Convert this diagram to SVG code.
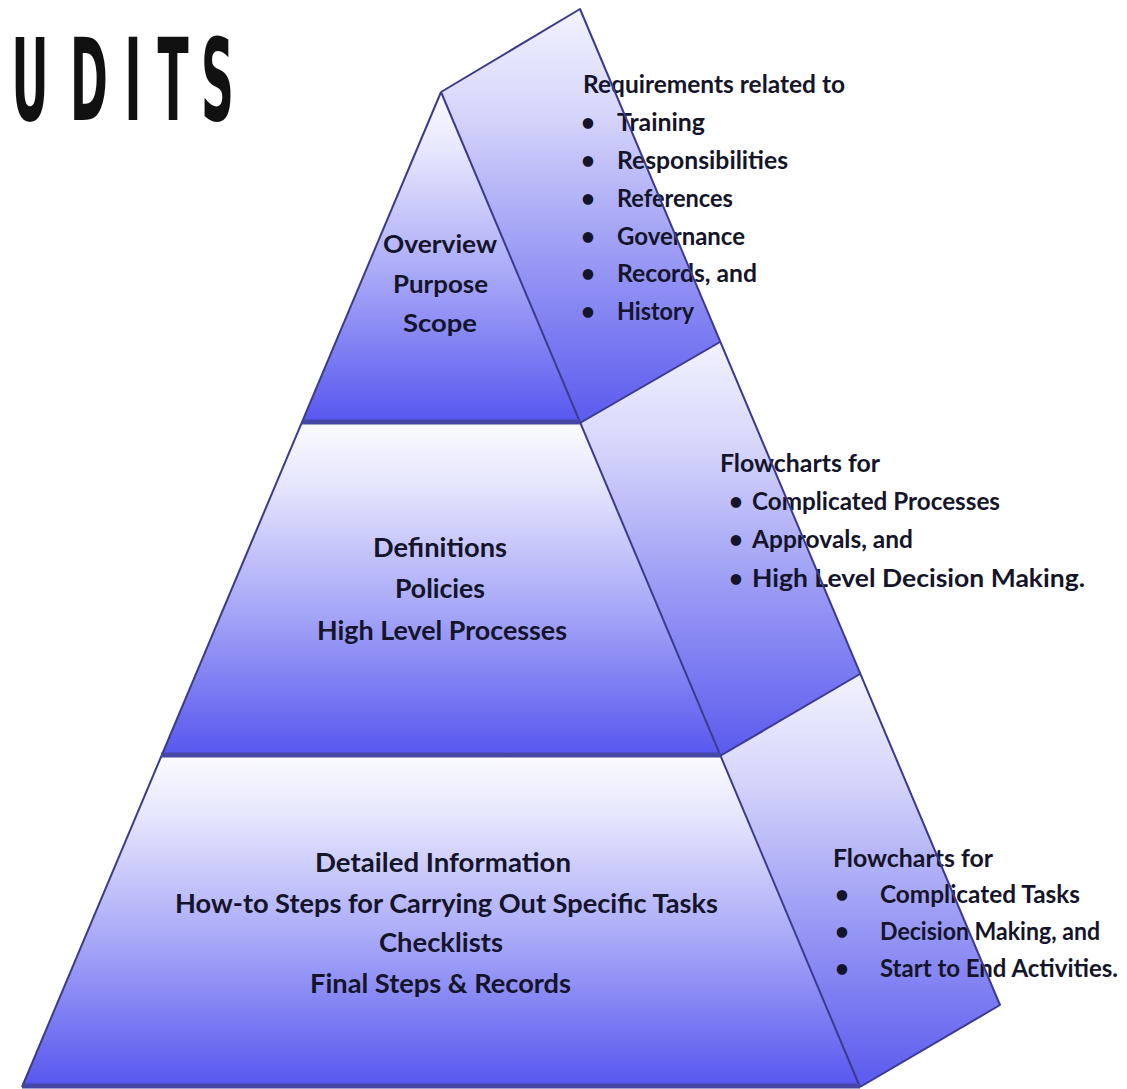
<svg xmlns="http://www.w3.org/2000/svg" width="1127" height="1089" viewBox="0 0 1127 1089">
  <defs>
    <!-- vertical shading used by every face: pale at the top, saturated blue at the bottom -->
    <linearGradient id="faceFill" x1="0" y1="0" x2="0" y2="1">
      <stop offset="0" stop-color="#fbfbff"/>
      <stop offset="0.18" stop-color="#e6e6fd"/>
      <stop offset="0.55" stop-color="#a9a9f8"/>
      <stop offset="1" stop-color="#5656ef"/>
    </linearGradient>
    <linearGradient id="sideFill" x1="0" y1="0" x2="0" y2="1">
      <stop offset="0" stop-color="#f2f2fe"/>
      <stop offset="0.25" stop-color="#d6d6fb"/>
      <stop offset="0.6" stop-color="#9a9af5"/>
      <stop offset="1" stop-color="#5a5aee"/>
    </linearGradient>
    <style>
      .face { fill: url(#faceFill); }
      .side { fill: url(#sideFill); }
      .edge { fill: none; stroke: #3a3a8e; stroke-width: 2; stroke-linejoin: round; }
      .base { stroke: #4646a4; stroke-width: 5; }
      .lbl { font-family: Lato, "Open Sans", "Liberation Sans", sans-serif; font-weight: bold; fill: #14142a; }
      .mid { font-size: 27px; }
      .top { font-size: 24px; }
      .note { font-size: 24px; }
      .title { font-family: "DejaVu Sans", "Liberation Sans", sans-serif; font-weight: bold; font-size: 114px; fill: #111111; }
    </style>
  </defs>

  <rect width="1127" height="1089" fill="#ffffff"/>

  <!-- heading -->
  <text class="title" transform="scale(0.4,1)" y="120" text-anchor="middle" x="75 222.5 332.5 432.5 543.8">UDITS</text>

  <!-- tier 1: apex -->
  <g id="tier-top">
    <polygon class="face" points="441,92 580,423 302,423"/>
    <polygon class="side" points="441,92 580,9 720,342 580,423"/>
    <text class="lbl top" x="383" y="253" textLength="114" lengthAdjust="spacingAndGlyphs">Overview</text>
    <text class="lbl top" x="393" y="293" textLength="95" lengthAdjust="spacingAndGlyphs">Purpose</text>
    <text class="lbl top" x="403" y="332" textLength="74" lengthAdjust="spacingAndGlyphs">Scope</text>
    <g class="lbl note">
      <text x="583" y="93" textLength="262" lengthAdjust="spacingAndGlyphs">Requirements related to</text>
      <text x="588" y="131" text-anchor="middle">•</text>
      <text x="617" y="131" textLength="88" lengthAdjust="spacingAndGlyphs">Training</text>
      <text x="588" y="169" text-anchor="middle">•</text>
      <text x="617" y="169" textLength="171" lengthAdjust="spacingAndGlyphs">Responsibilities</text>
      <text x="588" y="207" text-anchor="middle">•</text>
      <text x="617" y="207" textLength="116" lengthAdjust="spacingAndGlyphs">References</text>
      <text x="588" y="245" text-anchor="middle">•</text>
      <text x="617" y="245" textLength="128" lengthAdjust="spacingAndGlyphs">Governance</text>
      <text x="588" y="282" text-anchor="middle">•</text>
      <text x="617" y="282" textLength="140" lengthAdjust="spacingAndGlyphs">Records, and</text>
      <text x="588" y="320" text-anchor="middle">•</text>
      <text x="617" y="320" textLength="77" lengthAdjust="spacingAndGlyphs">History</text>
    </g>
  </g>

  <!-- tier 2: middle band -->
  <g id="tier-middle">
    <polygon class="face" points="302,423 580,423 720,756 161,756"/>
    <polygon class="side" points="580,423 720,342 860,674 720,756"/>
    <text class="lbl mid" x="373" y="557" textLength="134" lengthAdjust="spacingAndGlyphs">Definitions</text>
    <text class="lbl mid" x="395" y="598" textLength="90" lengthAdjust="spacingAndGlyphs">Policies</text>
    <text class="lbl mid" x="317" y="640" textLength="250" lengthAdjust="spacingAndGlyphs">High Level Processes</text>
    <g class="lbl note">
      <text x="720" y="472" textLength="160" lengthAdjust="spacingAndGlyphs">Flowcharts for</text>
      <text x="736" y="510" text-anchor="middle">•</text>
      <text x="752" y="510" textLength="248" lengthAdjust="spacingAndGlyphs">Complicated Processes</text>
      <text x="736" y="548" text-anchor="middle">•</text>
      <text x="752" y="548" textLength="161" lengthAdjust="spacingAndGlyphs">Approvals, and</text>
      <text x="736" y="587" text-anchor="middle">•</text>
      <text x="752" y="587" textLength="333" lengthAdjust="spacingAndGlyphs">High Level Decision Making.</text>
    </g>
  </g>

  <!-- tier 3: base band -->
  <g id="tier-bottom">
    <polygon class="face" points="161,756 720,756 860,1087 22,1087"/>
    <polygon class="side" points="720,756 860,674 1000,1005 860,1087"/>
    <text class="lbl mid" x="315" y="872" textLength="256" lengthAdjust="spacingAndGlyphs">Detailed Information</text>
    <text class="lbl mid" x="175" y="913" textLength="543" lengthAdjust="spacingAndGlyphs">How-to Steps for Carrying Out Specific Tasks</text>
    <text class="lbl mid" x="379" y="952" textLength="124" lengthAdjust="spacingAndGlyphs">Checklists</text>
    <text class="lbl mid" x="310" y="993" textLength="261" lengthAdjust="spacingAndGlyphs">Final Steps &amp; Records</text>
    <g class="lbl note">
      <text x="833" y="867" textLength="160" lengthAdjust="spacingAndGlyphs">Flowcharts for</text>
      <text x="842" y="903" text-anchor="middle">•</text>
      <text x="880" y="903" textLength="200" lengthAdjust="spacingAndGlyphs">Complicated Tasks</text>
      <text x="842" y="940" text-anchor="middle">•</text>
      <text x="880" y="940" textLength="220" lengthAdjust="spacingAndGlyphs">Decision Making, and</text>
      <text x="842" y="977" text-anchor="middle">•</text>
      <text x="880" y="977" textLength="238" lengthAdjust="spacingAndGlyphs">Start to End Activities.</text>
    </g>
  </g>

  <!-- outlines of all faces, drawn last so they sit above the labels -->
  <g id="edges">
    <polyline class="edge" points="441,92 22,1087"/>
    <polyline class="edge" points="441,92 860,1087"/>
    <polyline class="edge" points="441,92 580,9 1000,1005 860,1087"/>
    <polyline class="edge" points="580,423 720,342"/>
    <polyline class="edge" points="720,756 860,674"/>
    <line class="base" x1="302" y1="422" x2="580" y2="422"/>
    <line class="base" x1="161" y1="755" x2="720" y2="755"/>
    <line class="base" x1="22" y1="1086" x2="860" y2="1086"/>
  </g>
</svg>
